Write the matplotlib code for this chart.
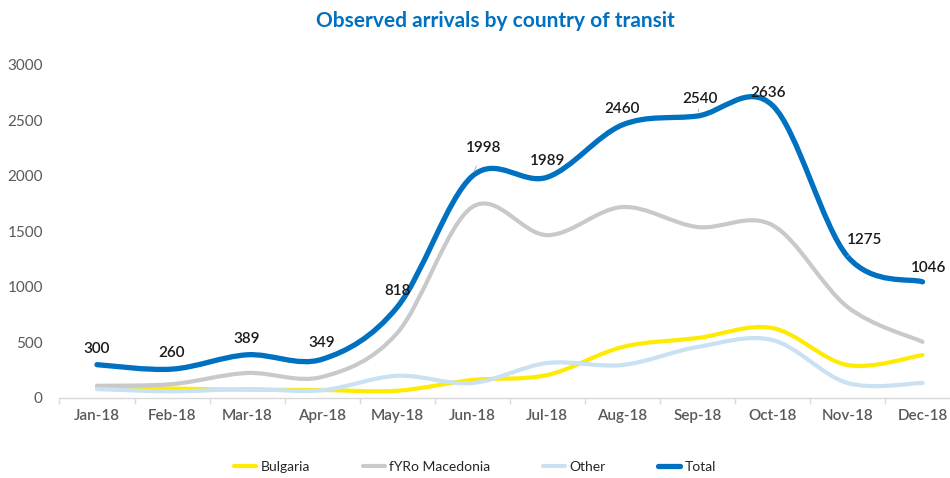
import numpy as np
import matplotlib
matplotlib.use("Agg")
import matplotlib.pyplot as plt
from matplotlib.path import Path
from matplotlib.patches import PathPatch
from matplotlib.lines import Line2D

plt.rcParams["font.family"] = ["Lato", "DejaVu Sans"]

months = ["Jan-18", "Feb-18", "Mar-18", "Apr-18", "May-18", "Jun-18",
          "Jul-18", "Aug-18", "Sep-18", "Oct-18", "Nov-18", "Dec-18"]
bulgaria = [100, 85, 75, 72, 65, 162, 207, 459, 540, 630, 297, 387]
macedonia = [110, 125, 225, 190, 585, 1720, 1467, 1720, 1540, 1557, 820, 506]
other = [80, 60, 80, 70, 200, 135, 315, 297, 459, 522, 135, 135]
total = [300, 260, 389, 349, 818, 1998, 1989, 2460, 2540, 2636, 1275, 1046]

COLORS = {"Bulgaria": "#FFEB00", "fYRo Macedonia": "#C9C9C9",
          "Other": "#C9E1F2", "Total": "#0070C0"}
WIDTHS = {"Bulgaria": 3.0, "fYRo Macedonia": 3.0, "Other": 3.0, "Total": 3.8}


def smooth_path(y):
    # Excel-style smoothed line: cubic Bezier through every point
    x = np.arange(len(y), dtype=float)
    P = np.column_stack([x, np.asarray(y, float)])
    verts, codes = [P[0]], [Path.MOVETO]
    n = len(P)
    for i in range(n - 1):
        p0 = P[i - 1] if i > 0 else P[i]
        p3 = P[i + 2] if i + 2 < n else P[i + 1]
        c1 = P[i] + (P[i + 1] - p0) / 6
        c2 = P[i + 1] - (p3 - P[i]) / 6
        verts += [c1, c2, P[i + 1]]
        codes += [Path.CURVE4] * 3
    return Path(verts, codes)


fig = plt.figure(figsize=(9.5, 4.78), dpi=100)
ax = fig.add_axes([0.0626, 0.1674, 0.948, 0.6967])

series = [("Bulgaria", bulgaria), ("fYRo Macedonia", macedonia),
          ("Other", other), ("Total", total)]
handles = []
for z, (name, vals) in enumerate(series):
    patch = PathPatch(smooth_path(vals), fill=False, edgecolor=COLORS[name],
                      lw=WIDTHS[name], capstyle="round", joinstyle="round",
                      zorder=3 + z)
    ax.add_patch(patch)
    handles.append(Line2D([], [], color=COLORS[name], lw=WIDTHS[name],
                          solid_capstyle="round", label=name))

# data labels on the total line (offsets in points)
offsets = {5: (8, 20), 8: (2, 12), 9: (-3, 9), 10: (12, 12), 11: (4, 10)}
leaders = {5, 8, 10}
for i, v in enumerate(total):
    dx, dy = offsets.get(i, (0, 11.5))
    kw = {}
    if i in leaders:
        kw["arrowprops"] = dict(arrowstyle="-", color="#A6A6A6", lw=0.6,
                                shrinkA=6, shrinkB=3)
    ax.annotate(str(v), (i, v), xytext=(dx, dy), textcoords="offset points",
                ha="center", va="center", fontsize=11, fontweight="semibold",
                color="#1a1a1a", zorder=10, **kw)

ax.set_xlim(-0.5, 11.5)
ax.set_ylim(0, 3000)
ax.set_xticks(range(len(months)))
ax.set_xticklabels(months, fontweight="semibold")
ax.set_xticks(np.arange(-0.5, 12, 1), minor=True)
ax.set_yticks(np.arange(0, 3001, 500))
ax.tick_params(axis="x", which="major", length=0, pad=8, labelsize=11,
               labelcolor="#595959")
ax.tick_params(axis="x", which="minor", length=4, color="#D9D9D9", width=1)
ax.tick_params(axis="y", length=0, pad=12, labelsize=11, labelcolor="#595959")
for s in ["top", "right", "left"]:
    ax.spines[s].set_visible(False)
ax.spines["bottom"].set_color("#D9D9D9")
ax.spines["bottom"].set_linewidth(1)

fig.text(0.521, 1 - 21 / 478, "Observed arrivals by country of transit",
         ha="center", va="center", fontsize=15, fontweight="bold",
         color="#0070C0")

fig.legend(handles=handles, loc="center", bbox_to_anchor=(0.5, 1 - 467 / 478),
           ncol=4, frameon=False, fontsize=10, handlelength=1.6,
           handletextpad=0.3, columnspacing=3.8, labelcolor="#262626")

fig.savefig("out.png", dpi=100)
